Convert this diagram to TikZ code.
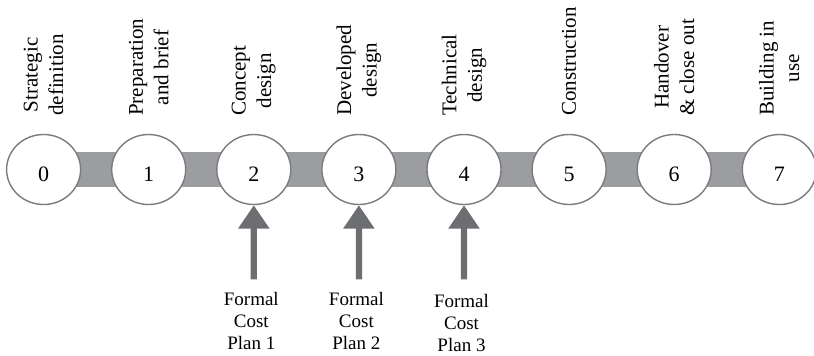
\documentclass[tikz,border=0pt]{standalone}
\usepackage{fontspec}
\setmainfont{Liberation Serif}
\usetikzlibrary{shapes.geometric,arrows.meta,backgrounds}

\definecolor{bargray}{HTML}{9C9DA0}
\definecolor{ringgray}{HTML}{7A7B7E}
\definecolor{arrowgray}{HTML}{6D6E71}

\tikzset{
  stage/.style={ellipse, draw=ringgray, line width=1.4pt, fill=white,
    minimum width=74pt, minimum height=70pt, inner sep=0pt,
    text height=23pt, text depth=0pt,
    font=\fontsize{22}{26}\selectfont},
  stagebar/.style={draw=bargray, line width=35pt},
  stagename/.style={rotate=90, anchor=west, align=center, inner sep=0pt,
    font=\fontsize{21}{25.5}\selectfont},
  costlabel/.style={anchor=north, align=center, inner sep=0pt,
    font=\fontsize{19}{22.2}\selectfont},
  costarrow/.style={draw=arrowgray, line width=6.3pt,
    -{Triangle[width=29.7pt,length=23.3pt]}},
}

\begin{document}
\begin{tikzpicture}[x=1pt,y=-1pt]
  \useasboundingbox (0,0) rectangle (814,356);

  % stage circles
  \foreach \i in {0,...,7} {
    \node[stage] (c\i) at ({43.6+105.1*\i},169.5) {\i};
  }

  % connecting band behind the circles
  \begin{scope}[on background layer]
    \draw[stagebar] (c0.center) -- (c7.center);
  \end{scope}

  % stage names
  \node[stagename] (n0) at (43.6,116) {Strategic\\definition};
  \node[stagename] (n1) at (148.7,116) {Preparation\\and brief};
  \node[stagename] (n2) at (253.8,116) {Concept\\design};
  \node[stagename] (n3) at (358.9,116) {Developed\\design};
  \node[stagename] (n4) at (464.0,116) {Technical\\design};
  \node[stagename] (n5) at (569.1,116) {Construction};
  \node[stagename] (n6) at (674.2,116) {Handover\\\& close out};
  \node[stagename] (n7) at (779.3,116) {Building in\\use};

  % cost plan labels
  \node[costlabel] (p1) at (251.3,292) {Formal\\Cost\\Plan 1};
  \node[costlabel] (p2) at (356.4,292) {Formal\\Cost\\Plan 2};
  \node[costlabel] (p3) at (461.5,293.7) {Formal\\Cost\\Plan 3};

  % arrow feet
  \coordinate (a2) at (253.8,279.3);
  \coordinate (a3) at (358.9,279.3);
  \coordinate (a4) at (464.0,279.3);

  \draw[costarrow] (a2) -- (c2.south);
  \draw[costarrow] (a3) -- (c3.south);
  \draw[costarrow] (a4) -- (c4.south);
\end{tikzpicture}
\end{document}
